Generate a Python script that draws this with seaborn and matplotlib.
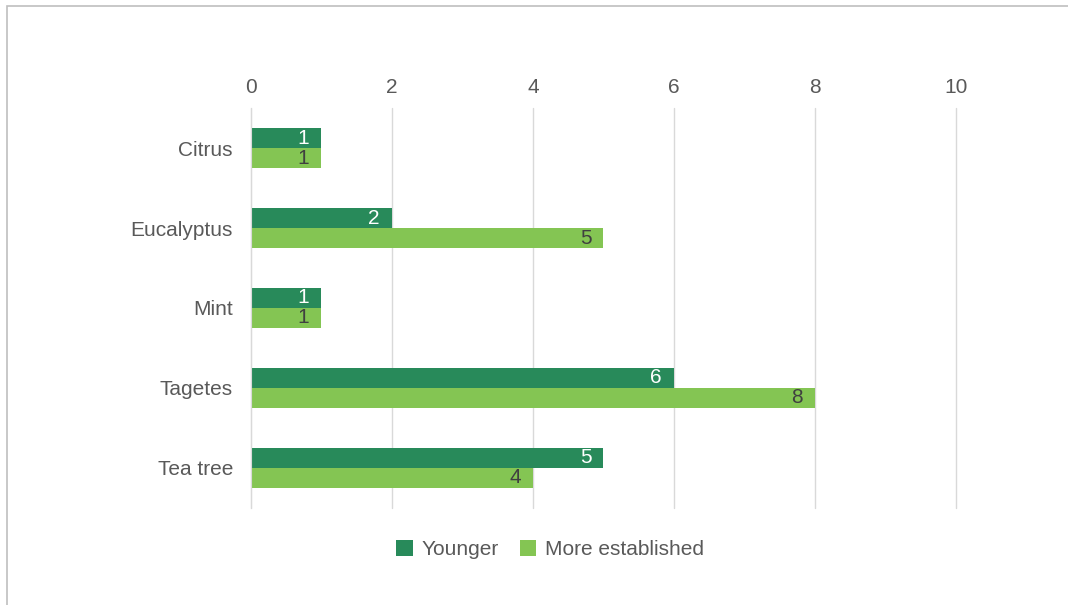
import pandas as pd
import matplotlib.pyplot as plt
import seaborn as sns
from matplotlib.patches import Rectangle

# Chart data
plants = ["Citrus", "Eucalyptus", "Mint", "Tagetes", "Tea tree"]
younger = [1, 2, 1, 6, 5]
established = [1, 5, 1, 8, 4]
groups = ["Younger", "More established"]

df = pd.DataFrame({
    "plant": plants * 2,
    "count": younger + established,
    "group": [groups[0]] * len(plants) + [groups[1]] * len(plants),
})

sns.set_style("white")
plt.rcParams["font.family"] = ["Liberation Sans", "DejaVu Sans"]

dark = "#288A5A"
light = "#84C553"
text_col = "#595959"

fig = plt.figure(figsize=(10.68, 6.05), dpi=100)
ax = fig.add_axes([0.235, 0.161, 0.66, 0.66])

sns.barplot(data=df, y="plant", x="count", hue="group", orient="h",
            palette=[dark, light], width=0.5, saturation=1, linewidth=0,
            ax=ax, legend=True)

# value labels inside bar ends
for cont, col in zip(ax.containers, ["white", "#404040"]):
    ax.bar_label(cont, labels=[str(int(v)) for v in cont.datavalues],
                 padding=-17, color=col, fontsize=15)

ax.set_xlim(0, 10)
ax.set_xticks(range(0, 11, 2))
ax.xaxis.tick_top()
ax.tick_params(axis="x", length=0, labelsize=15, labelcolor=text_col, pad=8)
ax.tick_params(axis="y", length=0, labelsize=15, labelcolor=text_col, pad=13)
ax.grid(axis="x", color="#D9D9D9", linewidth=1)
for gl in ax.get_xgridlines():
    gl.set_clip_on(False)
ax.set_axisbelow(True)
ax.set_xlabel("")
ax.set_ylabel("")
for s in ["top", "right", "bottom"]:
    ax.spines[s].set_visible(False)
ax.spines["left"].set_color("#D9D9D9")

handles, labels = ax.get_legend_handles_labels()
ax.legend_.remove()
fig.legend(handles, labels, loc="center", bbox_to_anchor=(0.515, 0.092),
           ncol=2, frameon=False, fontsize=15, handlelength=0.8,
           handleheight=0.8, columnspacing=1.0, handletextpad=0.4,
           labelcolor=text_col)

# outer chart border (top and left visible)
fig.add_artist(Rectangle((0.0065, -0.01), 1.02, 1.0, transform=fig.transFigure,
                         fill=False, edgecolor="#BFBFBF", linewidth=1.2))

fig.savefig("out.png", dpi=100, facecolor="white")
